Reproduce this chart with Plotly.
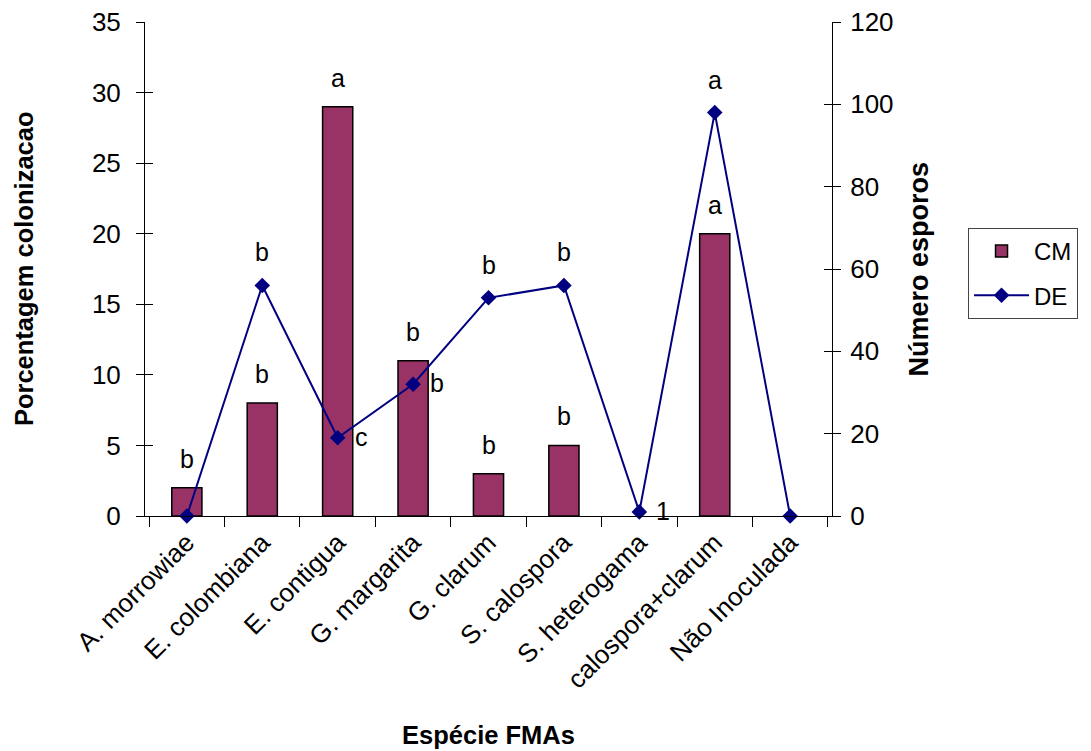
import plotly.graph_objects as go

categories = ["A. morrowiae", "E. colombiana", "E. contigua", "G. margarita", "G. clarum",
              "S. calospora", "S. heterogama", "calospora+clarum", "Não Inoculada"]
cm_values = [2, 8, 29, 11, 3, 5, 0, 20, 0]
de_values = [0, 56, 19, 32, 53, 56, 1, 98, 0]

# letter labels: (category index, text)
cm_labels = [(0, "b"), (1, "b"), (2, "a"), (3, "b"), (4, "b"), (5, "b"), (7, "a")]
de_labels = [(1, "b", "above"), (2, "c", "right"), (3, "b", "right"), (4, "b", "above"),
             (5, "b", "above"), (6, "1", "right"), (7, "a", "above")]

FONT = "Arial, 'Liberation Sans', sans-serif"
fs = 26
lfs = 25

fig = go.Figure()
fig.add_trace(go.Bar(
    x=categories, y=cm_values, name="CM", yaxis="y",
    marker=dict(color="#993366",
                line=dict(color="black", width=[1.5 if v > 0 else 0 for v in cm_values])),
    legendgroup="a",
))
fig.add_trace(go.Scatter(
    x=categories, y=de_values, name="DE", yaxis="y2", mode="lines+markers",
    line=dict(color="#000080", width=2),
    marker=dict(symbol="diamond", size=12, color="#000080"),
    cliponaxis=False, legendgroup="b",
))

annotations = []
for i, t in cm_labels:
    annotations.append(dict(x=categories[i], y=cm_values[i], xref="x", yref="y", text=t,
                            showarrow=False, yshift=29, font=dict(size=lfs, color="black")))
for i, t, pos in de_labels:
    if pos == "above":
        annotations.append(dict(x=categories[i], y=de_values[i], xref="x", yref="y2", text=t,
                                showarrow=False, yshift=33, font=dict(size=lfs, color="black")))
    else:
        annotations.append(dict(x=categories[i], y=de_values[i], xref="x", yref="y2", text=t,
                                showarrow=False, xshift=24, yshift=1, font=dict(size=lfs, color="black")))

titlefont = dict(family=FONT, size=25.5, color="black", weight="bold")
annotations += [
    dict(text="Porcentagem colonizacao", x=-0.176, y=0.5, xref="paper", yref="paper",
         textangle=-90, showarrow=False, font=titlefont, xanchor="center", yanchor="middle"),
    dict(text="Número esporos", x=1.126, y=0.5, xref="paper", yref="paper",
         textangle=-90, showarrow=False, font=dict(titlefont, size=27),
         xanchor="center", yanchor="middle"),
    dict(text="Espécie FMAs", x=0.5, y=-0.443, xref="paper", yref="paper",
         showarrow=False, font=titlefont, xanchor="center", yanchor="middle"),
]

tickfont = dict(family=FONT, size=fs, color="black")

fig.update_layout(
    width=1091, height=751,
    margin=dict(l=145, r=259, t=22, b=235, autoexpand=False),
    paper_bgcolor="white", plot_bgcolor="white",
    font=dict(family=FONT, size=fs, color="black"),
    bargap=0.6,
    showlegend=True,
    legend=dict(x=1.198, y=0.583, xanchor="left", yanchor="top",
                bordercolor="#444444", borderwidth=1, bgcolor="white",
                font=dict(size=24), traceorder="grouped", tracegroupgap=10,
                itemwidth=55),
    xaxis=dict(
        showline=True, linecolor="black", linewidth=1, automargin=False,
        ticks="outside", tickson="boundaries", ticklen=10, tickcolor="black",
        tickangle=-45, tickfont=tickfont, showgrid=False,
    ),
    yaxis=dict(
        range=[0, 35], dtick=5, showline=True, linecolor="black", linewidth=1,
        ticks="outside", ticklen=8, tickcolor="black", tickfont=tickfont,
        ticklabelstandoff=10,
        showgrid=False, zeroline=False, automargin=False,
    ),
    yaxis2=dict(
        range=[0, 120], dtick=20, overlaying="y", side="right",
        showline=True, linecolor="black", linewidth=1, automargin=False,
        ticks="outside", ticklen=8, tickcolor="black", tickfont=tickfont,
        ticklabelstandoff=4,
        showgrid=False, zeroline=False,
    ),
    yaxis3=dict(
        range=[0, 35], dtick=5, overlaying="y", side="left", anchor="x",
        ticks="inside", ticklen=8, tickcolor="black", showticklabels=False,
        showgrid=False, zeroline=False, showline=False, automargin=False,
    ),
    yaxis4=dict(
        range=[0, 120], dtick=20, overlaying="y", side="right", anchor="x",
        ticks="inside", ticklen=8, tickcolor="black", showticklabels=False,
        showgrid=False, zeroline=False, showline=False, automargin=False,
    ),
    annotations=annotations,
)

# invisible traces to activate the inner-tick overlay axes
fig.add_trace(go.Scatter(x=[categories[0]], y=[0], yaxis="y3", mode="markers",
                         marker=dict(opacity=0), showlegend=False, hoverinfo="skip"))
fig.add_trace(go.Scatter(x=[categories[0]], y=[0], yaxis="y4", mode="markers",
                         marker=dict(opacity=0), showlegend=False, hoverinfo="skip"))

# remove the default 8px page margin so the figure fills the window exactly
fig.write_html("out.html", config={"displayModeBar": False},
               post_script="document.body.style.margin='0';")
